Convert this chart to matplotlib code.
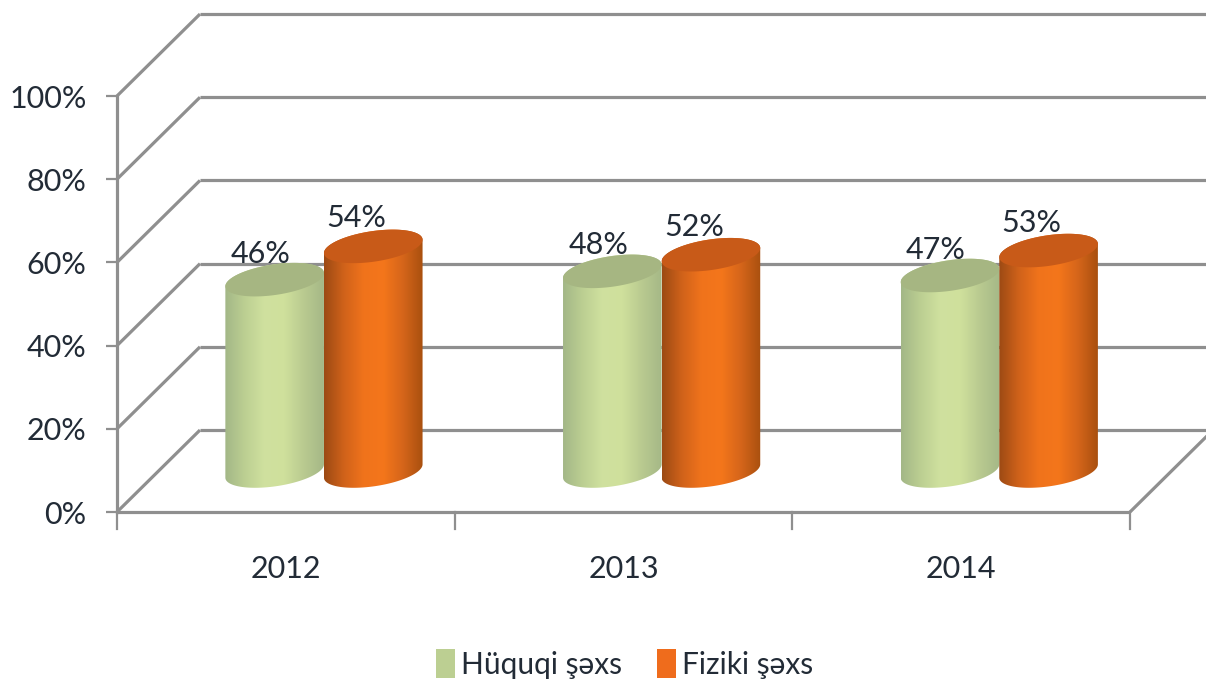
import matplotlib
matplotlib.use('Agg')
import matplotlib.pyplot as plt
import numpy as np
from matplotlib.colors import LinearSegmentedColormap
from matplotlib.patches import Patch, Polygon

plt.rcParams['font.family'] = ['Lato', 'DejaVu Sans']

# Data
years = ['2012', '2013', '2014']
huquqi = [46, 48, 47]
fiziki = [54, 52, 53]
series_names = ['Hüquqi şəxs', 'Fiziki şəxs']
y_ticks = [0, 20, 40, 60, 80, 100]

# Colours
GRID = '#8f8f8f'
TEXT = '#222b36'
green_side = ['#a3b787', '#bccf92', '#d0e19f', '#cfe09c', '#b9ca90', '#a5b887']
green_top = '#a6b682'
orange_side = ['#9c4a14', '#d0621a', '#f0731c', '#f4761b', '#d5651a', '#a9500f']
orange_top = '#c85a18'

# Fake 3D: how far the back wall is shifted, in data units
DEPTH_X = 0.2458
DEPTH_Y = 19.7
BAR_W = 0.146
CAP_H = 3.7
CAP_SLOPE = 1.6


def project(x, v, d=0.0):
    return x + d * DEPTH_X, v + d * DEPTH_Y


fig = plt.figure(figsize=(12.06, 6.85), dpi=100)
# axes box is the front plane of the chart
ax = fig.add_axes([117 / 1206, 1 - 512 / 685, 1013 / 1206, 416 / 685])
ax.set_xlim(0, 3)
ax.set_ylim(0, 100)
for s in ax.spines.values():
    s.set_visible(False)


def line(xs, vs, ds):
    px, py = zip(*[project(x, v, d) for x, v, d in zip(xs, vs, ds)])
    ax.plot(px, py, color=GRID, lw=2.3, clip_on=False, solid_capstyle='butt', zorder=1)


for v in y_ticks:
    line([0, 0], [v, v], [0, 1])
    line([0, 3.2], [v, v], [1, 1])
line([0, 3], [0, 0], [0, 0])
line([3, 3], [0, 0], [0, 1])
ax.plot([0, 0], [0, 100], color=GRID, lw=2.3, clip_on=False, zorder=1)

# x ticks hang under the floor edge
for i in range(4):
    ax.plot([i, i], [0, -4.2], color=GRID, lw=1.6, clip_on=False, zorder=1)

ax.set_yticks(y_ticks)
ax.set_yticklabels([f'{v}%' for v in y_ticks], fontsize=22, color=TEXT)
ax.tick_params(axis='y', length=8, width=1.6, color=GRID, pad=14)
ax.set_xticks([])
ax.set_xticks(np.arange(3) + 0.5, minor=True)
ax.set_xticklabels(years, minor=True, fontsize=22, color=TEXT)
ax.tick_params(axis='x', which='minor', length=0, pad=31)


def cylinder(cx, value, side_colors, top_color, label_dx, label_dy):
    t = np.linspace(0, np.pi, 80)
    bx, by = project(cx, 0, 0.5)
    tx, ty = project(cx, value, 0.5)

    def rim(x0, y0, a):
        return x0 + BAR_W * np.cos(a), y0 + CAP_SLOPE * np.cos(a) + CAP_H * np.sin(a)

    up_x, up_y = rim(tx, ty, t)
    lo_x, lo_y = rim(bx, by, -t[::-1])
    body = Polygon(np.column_stack([np.r_[up_x, lo_x], np.r_[up_y, lo_y]]),
                   closed=True, transform=ax.transData, facecolor='none', edgecolor='none')
    ax.add_patch(body)
    cmap = LinearSegmentedColormap.from_list('side', side_colors)
    im = ax.imshow(np.linspace(0, 1, 256).reshape(1, -1), cmap=cmap, aspect='auto',
                   extent=[bx - BAR_W, bx + BAR_W, by - 8, ty + 8], zorder=3,
                   interpolation='bilinear')
    im.set_clip_path(body)

    a = np.linspace(0, 2 * np.pi, 160)
    cap_x, cap_y = rim(tx, ty, a)
    ax.fill(cap_x, cap_y, color=top_color, lw=0, zorder=4, clip_on=False)
    ax.annotate(f'{value}%', (tx, ty), xytext=(label_dx, label_dy), textcoords='offset pixels',
                ha='center', va='center', fontsize=22, color=TEXT, zorder=5,
                annotation_clip=False)


for i in range(len(years)):
    gx = i + 0.49
    cylinder(gx - BAR_W, huquqi[i], green_side, green_top, -14, 26)
    cylinder(gx + BAR_W, fiziki[i], orange_side, orange_top, -17, 28)

ax.set_xlim(0, 3)
ax.set_ylim(0, 100)

handles = [Patch(facecolor='#bccf92', edgecolor='none'), Patch(facecolor='#ef6c1c', edgecolor='none')]
fig.legend(handles, series_names, loc='center', bbox_to_anchor=(624.5 / 1206, 1 - 664 / 685),
           ncol=2, frameon=False, fontsize=21.5, labelcolor=TEXT,
           handlelength=0.62, handleheight=1.1, handletextpad=0.2, columnspacing=1.2)

fig.savefig('out.png', dpi=100)
plt.close(fig)
